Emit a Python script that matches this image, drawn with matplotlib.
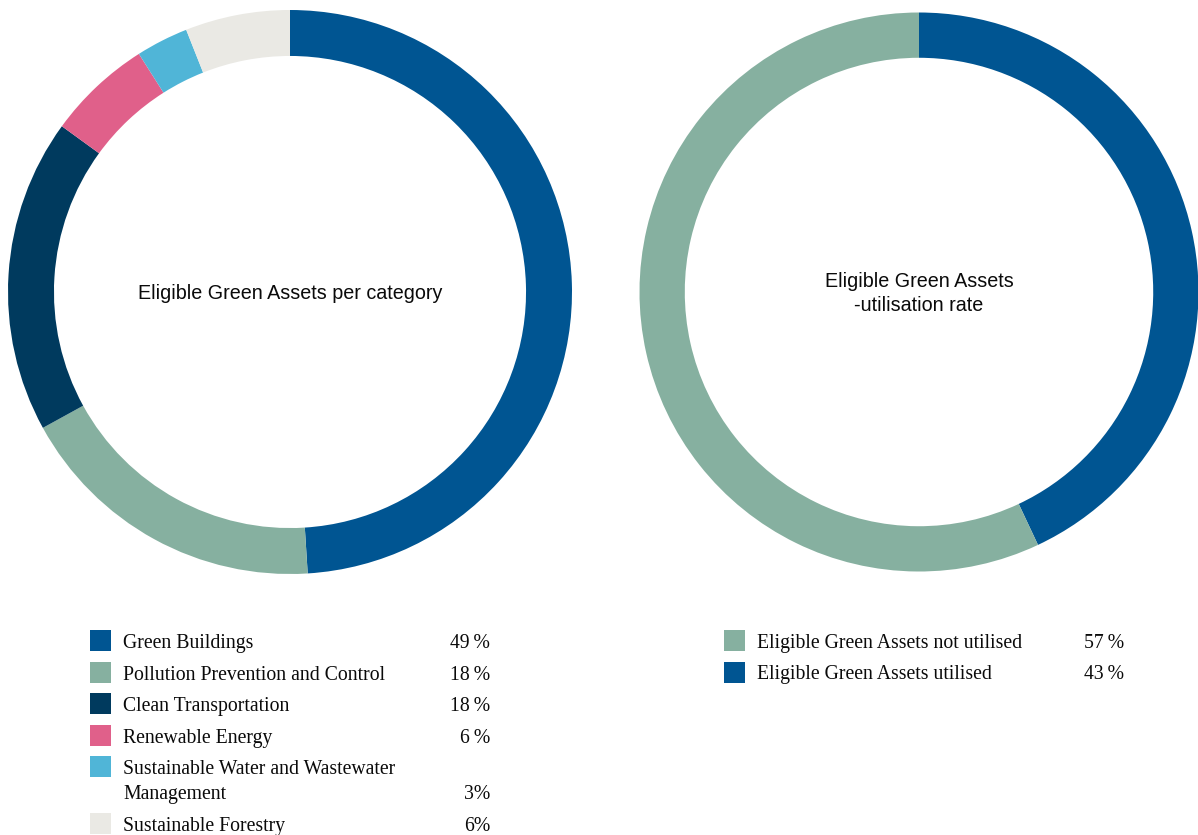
import matplotlib
matplotlib.use("Agg")
import matplotlib.pyplot as plt

# ---- data ----
cat_labels = ["Green Buildings", "Pollution Prevention and Control", "Clean Transportation",
              "Renewable Energy", "Sustainable Water and Wastewater\nManagement", "Sustainable Forestry"]
cat_values = [49, 18, 18, 6, 3, 6]
cat_pct_text = ["49\u2009%", "18\u2009%", "18\u2009%", "6\u2009%", "3%", "6%"]
cat_colors = ["#005592", "#86b0a0", "#003a5e", "#e0608a", "#50b5d7", "#eae9e4"]

util_labels = ["Eligible Green Assets not utilised", "Eligible Green Assets utilised"]
util_values = [57, 43]
util_pct_text = ["57\u2009%", "43\u2009%"]
util_colors = ["#86b0a0", "#005592"]

W, H = 1198, 835
fig = plt.figure(figsize=(W / 100, H / 100), dpi=100)
fig.patch.set_facecolor("white")

def px_axes(cx, cy, r):
    return fig.add_axes([(cx - r) / W, (H - cy - r) / H, 2 * r / W, 2 * r / H])

sans = ["Liberation Sans", "DejaVu Sans"]
serif = ["Liberation Serif", "DejaVu Serif"]
txt_col = "#0a0a0a"

# left donut
ax1 = px_axes(290, 292, 282)
ax1.pie(cat_values, colors=cat_colors, startangle=90, counterclock=False,
        wedgeprops=dict(width=0.163, linewidth=0), radius=1)
ax1.set_xlim(-1, 1); ax1.set_ylim(-1, 1); ax1.set_aspect("equal"); ax1.axis("off")
ax1.text(0, -0.005, "Eligible Green Assets per category", ha="center", va="center",
         fontsize=14.2, family=sans, color=txt_col)

# right donut
ax2 = px_axes(919, 292, 279.5)
ax2.pie(util_values[::-1], colors=util_colors[::-1], startangle=90, counterclock=False,
        wedgeprops=dict(width=0.162, linewidth=0), radius=1)
ax2.set_xlim(-1, 1); ax2.set_ylim(-1, 1); ax2.set_aspect("equal"); ax2.axis("off")
ax2.text(0, -0.006, "Eligible Green Assets\n-utilisation rate", ha="center", va="center",
         fontsize=14.2, family=sans, color=txt_col, linespacing=1.32)

# legends (figure pixel coordinates)
def fx(x): return x / W
def fy(y): return 1 - y / H

leg_fs = 14.2
# (square top, text baseline) in pixels
left_rows = [(630, 648), (662, 679.5), (693, 711), (725, 742.7), (756, 774), (813, 831)]
for i, (lab, pct, col) in enumerate(zip(cat_labels, cat_pct_text, cat_colors)):
    sq_top, base = left_rows[i]
    fig.patches.append(plt.Rectangle((fx(90), fy(sq_top + 21)), 21 / W, 21 / H,
                                     transform=fig.transFigure, color=col, linewidth=0))
    if "\n" in lab:
        l1, l2 = lab.split("\n")
        fig.text(fx(123), fy(base), l1, ha="left", va="baseline", fontsize=leg_fs, family=serif, color=txt_col)
        fig.text(fx(123), fy(base + 25), l2, ha="left", va="baseline", fontsize=leg_fs, family=serif, color=txt_col)
        fig.text(fx(490), fy(base + 25), pct, ha="right", va="baseline", fontsize=leg_fs, family=serif, color=txt_col)
    else:
        fig.text(fx(123), fy(base), lab, ha="left", va="baseline", fontsize=leg_fs, family=serif, color=txt_col)
        fig.text(fx(490), fy(base), pct, ha="right", va="baseline", fontsize=leg_fs, family=serif, color=txt_col)

right_rows = [(630, 648.3), (662, 679.3)]
for i, (lab, pct, col) in enumerate(zip(util_labels, util_pct_text, util_colors)):
    sq_top, base = right_rows[i]
    fig.patches.append(plt.Rectangle((fx(724), fy(sq_top + 21)), 21 / W, 21 / H,
                                     transform=fig.transFigure, color=col, linewidth=0))
    fig.text(fx(757), fy(base), lab, ha="left", va="baseline", fontsize=leg_fs, family=serif, color=txt_col)
    fig.text(fx(1124), fy(base), pct, ha="right", va="baseline", fontsize=leg_fs, family=serif, color=txt_col)

fig.savefig("out.png", dpi=100, facecolor="white")
